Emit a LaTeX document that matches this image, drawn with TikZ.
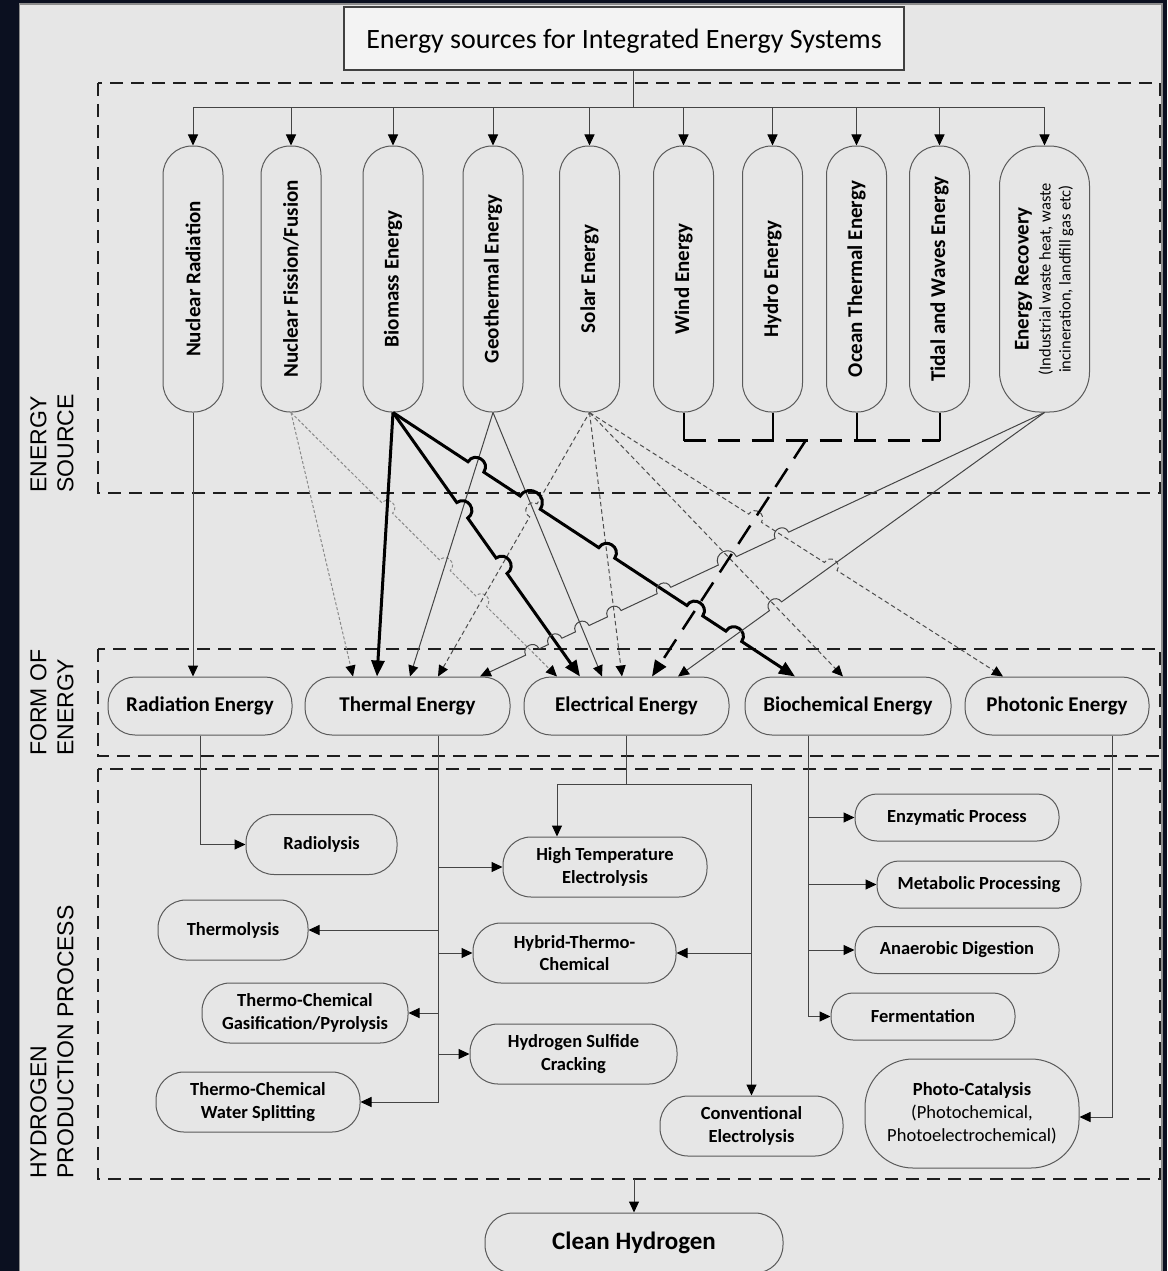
\documentclass[tikz,border=0pt]{standalone}
\usepackage{fontspec}
\setmainfont{Carlito}
\newfontfamily\capsfont{Liberation Sans}
\usetikzlibrary{arrows.meta,calc,intersections}

\definecolor{framec}{HTML}{0B1020}
\definecolor{panel}{HTML}{E6E6E6}
\definecolor{panelrim}{HTML}{8C8C8C}
\definecolor{titlefill}{HTML}{F3F3F3}
\definecolor{titleedge}{HTML}{404040}
\definecolor{edgec}{HTML}{5A5A5A}
\definecolor{wirec}{HTML}{444444}
\definecolor{fisc}{HTML}{8A8A8A}
\definecolor{solc}{HTML}{4D4D4D}
\definecolor{zonec}{HTML}{1E1E1E}

\begin{document}
\begin{tikzpicture}[x=1pt,y=-1pt,
  lhop/.style={bend left=90,looseness=1.7},
  jumpover/.style n args={4}{insert path={-- ($(#1)!#4!(#2)$) to[lhop] ($(#1)!#4!(#3)$)}},
  shapebox/.style={draw=edgec,fill=panel,line width=1pt,inner sep=0pt,align=center},
  capsule/.style={shapebox,rounded corners=29pt,minimum width=60pt,minimum height=266pt,font=\fontsize{21}{25}\selectfont\bfseries},
  formbox/.style={shapebox,rounded corners=27pt,minimum height=58pt,font=\fontsize{21}{25}\selectfont\bfseries},
  procbox/.style={shapebox,rounded corners=28pt,minimum height=60pt,font=\fontsize{18.5}{22.5}\selectfont\bfseries},
  bioproc/.style={shapebox,rounded corners=22pt,minimum height=47pt,minimum width=204pt,font=\fontsize{18.5}{22.5}\selectfont\bfseries},
  zonebox/.style={draw=zonec,line width=2pt,dash pattern=on 13pt off 8pt},
  sidelab/.style={rotate=90,anchor=north west,align=left,inner sep=0pt,font=\capsfont\fontsize{23}{27}\selectfont},
  wire/.style={draw=wirec,line width=1pt},
  arrowend/.style={-{Triangle[length=11pt,width=10pt,color=black]}},
  arrowstart/.style={{Triangle[length=11pt,width=10pt,color=black]}-},
  bigarrow/.style={-{Triangle[length=16pt,width=13pt,color=black]}},
  fisln/.style={draw=fisc,line width=1pt,dash pattern=on 3pt off 2pt},
  solln/.style={draw=solc,line width=1pt,dash pattern=on 4.5pt off 3pt},
  bioln/.style={draw=black,line width=3pt},
  windln/.style={draw=black,line width=2.5pt,dash pattern=on 22pt off 12pt}
]
% frame and panel
\useasboundingbox (0,0) rectangle (1167,1271);
\fill[framec] (0,0) rectangle (1167,1271);
\filldraw[fill=panel,draw=panelrim,line width=1.5pt] (19.5,4) rectangle (1162,1290);

% dashed zones
\draw[zonebox] (98,83) rectangle (1160,493);
\draw[zonebox] (98,649) rectangle (1160,756);
\draw[zonebox] (98,769) rectangle (1160,1179);

% zone captions
\node[sidelab] at (30,493) {ENERGY\\SOURCE};
\node[sidelab] at (30,756) {FORM OF\\ENERGY};
\node[sidelab] at (30,1179) {HYDROGEN\\PRODUCTION PROCESS};

% title
\node[draw=titleedge,fill=titlefill,line width=1.5pt,minimum width=560pt,minimum height=63pt,inner sep=0pt,text height=25pt,font=\fontsize{28}{32}\selectfont] (title) at (624,38.5) {Energy sources for Integrated Energy Systems};

% energy sources
\node[capsule] (nr)    at (193,279)   {\rotatebox{90}{Nuclear Radiation}};
\node[capsule] (fis)   at (291,279)   {\rotatebox{90}{Nuclear Fission/Fusion}};
\node[capsule] (bio)   at (393,279)   {\rotatebox{90}{Biomass Energy}};
\node[capsule] (geo)   at (493,279)   {\rotatebox{90}{Geothermal Energy}};
\node[capsule] (sol)   at (589.5,279) {\rotatebox{90}{Solar Energy}};
\node[capsule] (wind)  at (683.5,279) {\rotatebox{90}{Wind Energy}};
\node[capsule] (hydro) at (772.5,279) {\rotatebox{90}{Hydro Energy}};
\node[capsule] (ocean) at (856.5,279) {\rotatebox{90}{Ocean Thermal Energy}};
\node[capsule] (tidal) at (939.5,279) {\rotatebox{90}{Tidal and Waves Energy}};
\node[capsule,minimum width=90pt,rounded corners=40pt] (er) at (1044.5,279)
  {\rotatebox{90}{\begin{tabular}{@{}c@{}}Energy Recovery\\[-3pt]
   {\mdseries\fontsize{16.5}{19}\selectfont (Industrial waste heat, waste}\\[-5pt]
   {\mdseries\fontsize{16.5}{19}\selectfont incineration, landfill gas etc)}\end{tabular}}};

% forms of energy
\node[formbox,minimum width=184pt] (rad)     at (200,706)    {Radiation Energy};
\node[formbox,minimum width=205pt] (thermal) at (407.5,706)  {Thermal Energy};
\node[formbox,minimum width=205pt] (ele)     at (626.5,706)  {Electrical Energy};
\node[formbox,minimum width=206pt] (bioch)   at (848,706)    {Biochemical Energy};
\node[formbox,minimum width=184pt] (pho)     at (1057,706)   {Photonic Energy};

% production processes
\node[procbox,minimum width=151pt] (radiolysis)  at (321.5,844.5) {Radiolysis};
\node[procbox,minimum width=150pt] (thermolysis) at (233,930)     {Thermolysis};
\node[procbox,minimum width=206pt] (gasif)       at (305,1013)    {Thermo-Chemical\\Gasification/Pyrolysis};
\node[procbox,minimum width=204pt] (wsplit)      at (258,1102)    {Thermo-Chemical\\Water Splitting};
\node[procbox,minimum width=204pt] (hte)         at (605,867)     {High Temperature\\Electrolysis};
\node[procbox,minimum width=203pt] (hybrid)      at (574.5,953)   {Hybrid-Thermo-\\Chemical};
\node[procbox,minimum width=207pt] (h2s)         at (573.5,1054)  {Hydrogen Sulfide\\Cracking};
\node[procbox,minimum width=183pt] (conv)        at (751.5,1126)  {Conventional\\Electrolysis};
\node[bioproc] (enz)  at (957,817.5) {Enzymatic Process};
\node[bioproc] (meta) at (979,884.5) {Metabolic Processing};
\node[bioproc] (anae) at (957,950)   {Anaerobic Digestion};
\node[bioproc,minimum width=184pt] (ferm) at (923,1016.5) {Fermentation};
\node[shapebox,rounded corners=48pt,minimum width=214pt,minimum height=109pt,font=\fontsize{18.5}{23}\selectfont] (cat) at (972,1113.5)
  {{\bfseries Photo-Catalysis}\\(Photochemical,\\Photoelectrochemical)};
\node[procbox,minimum width=298pt,font=\fontsize{25}{30}\selectfont\bfseries] (clean) at (634,1243) {Clean Hydrogen};

% distribution from the title to every source
\coordinate (hub) at (633,108);
\draw[wire] ([xshift=9pt]title.south) -- (hub);
\draw[wire] (nr.north |- hub) -- (er.north |- hub);
\foreach \n in {nr,fis,bio,geo,sol,wind,hydro,ocean,tidal,er}
  \draw[wire,arrowend] (\n.north |- hub) -- (\n.north);

% arrival points on the forms of energy
\coordinate (eFT) at ([xshift=-54.5pt]thermal.north);
\coordinate (eBT) at ([xshift=-30.5pt]thermal.north);
\coordinate (eGT) at ([xshift=2.5pt]thermal.north);
\coordinate (eST) at ([xshift=30.5pt]thermal.north);
\coordinate (eRT) at ([xshift=72.5pt]thermal.north);
\coordinate (eFE) at ([xshift=-69.5pt]ele.north);
\coordinate (eBE) at ([xshift=-46.5pt]ele.north);
\coordinate (eGE) at ([xshift=-24.5pt]ele.north);
\coordinate (eSE) at ([xshift=-4.5pt]ele.north);
\coordinate (eWE) at ([xshift=25.5pt]ele.north);
\coordinate (eRE) at ([xshift=51.5pt]ele.north);
\coordinate (eBB) at ([xshift=-53pt]bioch.north);
\coordinate (eSB) at ([xshift=-5pt]bioch.north);
\coordinate (eSP) at ([xshift=-54pt]pho.north);
\coordinate (wbend) at (806,440);

% guide paths for the crossings
\path[name path=FE] (fis.south) -- (eFE);
\path[name path=BT] (bio.south) -- (eBT);
\path[name path=BE] (bio.south) -- (eBE);
\path[name path=BB] (bio.south) -- (eBB);
\path[name path=GT] (geo.south) -- (eGT);
\path[name path=GE] (geo.south) -- (eGE);
\path[name path=ST] (sol.south) -- (eST);
\path[name path=SE] (sol.south) -- (eSE);
\path[name path=SB] (sol.south) -- (eSB);
\path[name path=SP] (sol.south) -- (eSP);
\path[name path=WE] (wbend) -- (eWE);
\path[name path=RT] (er.south) -- (eRT);
\path[name path=RE] (er.south) -- (eRE);

\path[name intersections={of=FE and BT,by=xFEa}];
\path[name intersections={of=FE and GT,by=xFEb}];
\path[name intersections={of=FE and ST,by=xFEc}];
\path[name intersections={of=BE and GT,by=xBEa}];
\path[name intersections={of=BE and ST,by=xBEb}];
\path[name intersections={of=BB and GT,by=xBBa}];
\path[name intersections={of=BB and GE,by=xBBb}];
\path[name intersections={of=BB and SE,by=xBBc}];
\path[name intersections={of=BB and WE,by=xBBd}];
\path[name intersections={of=BB and RE,by=xBBe}];
\path[name intersections={of=ST and GE,by=xSTa}];
\path[name intersections={of=SP and WE,by=xSPa}];
\path[name intersections={of=SP and RE,by=xSPb}];
\path[name intersections={of=RT and FE,by=xRTa}];
\path[name intersections={of=RT and BE,by=xRTb}];
\path[name intersections={of=RT and GE,by=xRTc}];
\path[name intersections={of=RT and SE,by=xRTd}];
\path[name intersections={of=RT and BB,by=xRTe}];
\path[name intersections={of=RT and WE,by=xRTf}];
\path[name intersections={of=RT and SP,by=xRTg}];
\path[name intersections={of=RE and SB,by=xREa}];

% sources to forms of energy
\draw[wire,arrowend] (nr.south) -- ([xshift=-7pt]rad.north);

\draw[fisln,arrowend] (fis.south) -- (eFT);
\draw[fisln,arrowend] (fis.south)
  [jumpover={xFEa}{fis.south}{eFE}{7.5pt}]
  [jumpover={xFEb}{fis.south}{eFE}{7.5pt}]
  [jumpover={xFEc}{fis.south}{eFE}{7.5pt}] -- (eFE);

\draw[wire,arrowend] (geo.south) -- (eGT);
\draw[wire,arrowend] (geo.south) -- (eGE);

\draw[solln,arrowstart] (eST) [jumpover={xSTa}{eST}{sol.south}{7.5pt}] -- (sol.south);
\draw[solln,arrowend] (sol.south) -- (eSE);
\draw[solln,arrowend] (sol.south) -- (eSB);
\draw[solln,arrowend] (sol.south)
  [jumpover={xSPa}{sol.south}{eSP}{7.5pt}]
  [jumpover={xSPb}{sol.south}{eSP}{7.5pt}] -- (eSP);

\draw[bioln,bigarrow] (bio.south) -- (eBT);
\draw[bioln,bigarrow] (bio.south)
  [jumpover={xBEa}{bio.south}{eBE}{9.5pt}]
  [jumpover={xBEb}{bio.south}{eBE}{9.5pt}] -- (eBE);
\draw[bioln,bigarrow] (bio.south)
  [jumpover={xBBa}{bio.south}{eBB}{9.5pt}]
  [jumpover={xBBb}{bio.south}{eBB}{12pt}]
  [jumpover={xBBc}{bio.south}{eBB}{9.5pt}]
  [jumpover={xBBd}{bio.south}{eBB}{9.5pt}]
  [jumpover={xBBe}{bio.south}{eBB}{9.5pt}] -- (eBB);

% wind, hydro, ocean thermal and tidal share one feed
\foreach \n in {wind,hydro,ocean,tidal}
  \draw[black,line width=2pt] (\n.south) -- ++(0,28);
\draw[windln] ($(wind.south)+(0,28)$) -- ($(tidal.south)+(0,28)$);
\draw[windln,bigarrow] (wbend) -- (eWE);

\draw[wire,arrowstart] (eRT)
  [jumpover={xRTa}{eRT}{er.south}{7.5pt}]
  [jumpover={xRTb}{eRT}{er.south}{7.5pt}]
  [jumpover={xRTc}{eRT}{er.south}{7.5pt}]
  [jumpover={xRTd}{eRT}{er.south}{7.5pt}]
  [jumpover={xRTe}{eRT}{er.south}{7.5pt}]
  [jumpover={xRTf}{eRT}{er.south}{10pt}]
  [jumpover={xRTg}{eRT}{er.south}{7.5pt}] -- (er.south);
\draw[wire,arrowstart] (eRE) [jumpover={xREa}{eRE}{er.south}{7.5pt}] -- (er.south);

% forms of energy to production processes
\draw[wire,arrowend] (rad.south) |- (radiolysis.west);

\coordinate (tsp) at ([xshift=30.5pt]thermal.south);
\draw[wire,arrowend] (tsp) |- (wsplit.east);
\foreach \n in {hte,hybrid,h2s}
  \draw[wire,arrowend] (tsp |- \n.west) -- (\n.west);
\foreach \n in {thermolysis,gasif}
  \draw[wire,arrowend] (tsp |- \n.east) -- (\n.east);

\coordinate (ebus) at ($(ele.south)+(0,49)$);
\draw[wire] (ele.south) -- (ebus);
\draw[wire,arrowend] (ebus) -| ([xshift=-48pt]hte.north);
\draw[wire,arrowend] (ebus) -| (conv.north);
\draw[wire,arrowend] (conv.north |- hybrid.east) -- (hybrid.east);

\coordinate (bsp) at ([xshift=-40pt]bioch.south);
\draw[wire,arrowend] (bsp) |- (ferm.west);
\foreach \n in {enz,meta,anae}
  \draw[wire,arrowend] (bsp |- \n.west) -- (\n.west);

\draw[wire,arrowend] ([xshift=55pt]pho.south) |- ([yshift=-3.5pt]cat.east);

\coordinate (h2out) at (634,1179);
\draw[wire,arrowend] (h2out) -- (clean.north);
\end{tikzpicture}
\end{document}
